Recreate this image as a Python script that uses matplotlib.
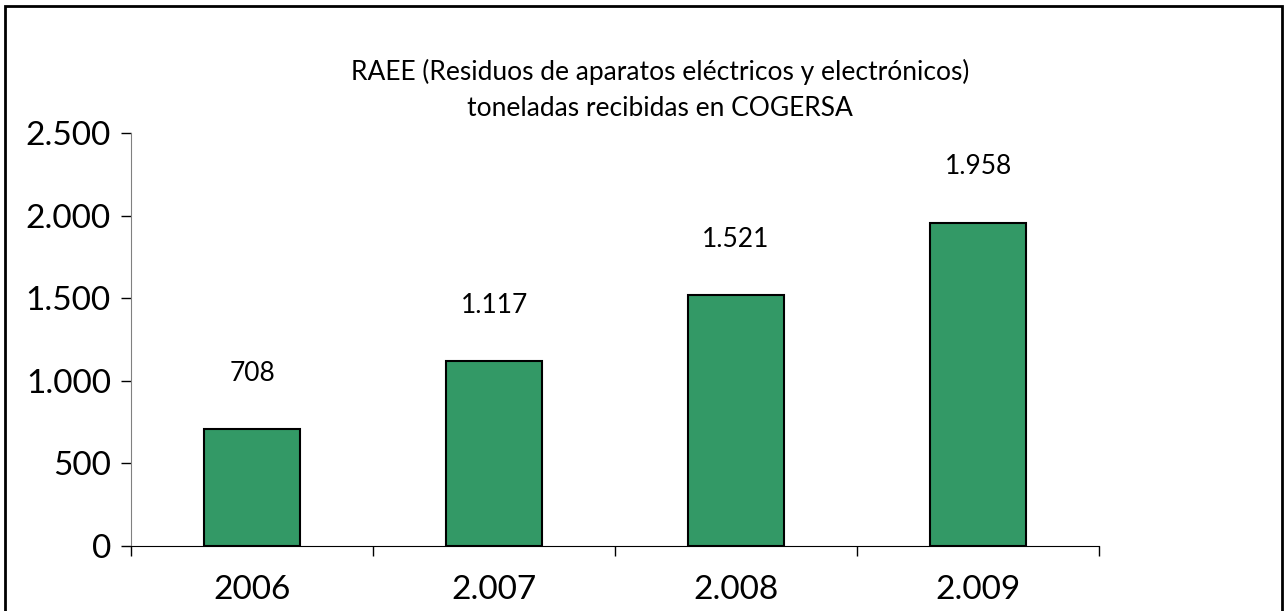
import numpy as np
import matplotlib
matplotlib.use('Agg')
from matplotlib import pyplot as plt
from matplotlib.patches import Rectangle

years = ['2006', '2.007', '2.008', '2.009']
tonnes = [708, 1117, 1521, 1958]
value_labels = ['708', '1.117', '1.521', '1.958']
y_ticks = [0, 500, 1000, 1500, 2000, 2500]
y_tick_labels = ['0', '500', '1.000', '1.500', '2.000', '2.500']

plt.rcParams['font.family'] = ['Lato', 'DejaVu Sans']

fig = plt.figure(figsize=(12.86, 6.11), dpi=100)
fig.patch.set_facecolor('white')

# outer chart frame
fig.patches.append(Rectangle((0.004, -0.02), 0.993, 1.01, transform=fig.transFigure,
                             fill=False, edgecolor='black', linewidth=2))

ax = fig.add_axes([0.1019, 0.1064, 0.7527, 0.6759])
x = np.arange(len(years))
bars = ax.bar(x, tonnes, width=0.4, color='#339966', edgecolor='black', linewidth=1.5)

for xi, v, lab in zip(x, tonnes, value_labels):
    ax.annotate(lab, (xi, v), xytext=(0, 40), textcoords='offset points',
                ha='center', va='center', fontsize=19)

ax.set_xlim(-0.5, 3.5)
ax.set_ylim(0, 2500)
ax.set_yticks(y_ticks)
ax.set_yticklabels(y_tick_labels, fontsize=24)
ax.set_xticks(x)
ax.set_xticklabels(years, fontsize=24)
ax.set_xticks(np.arange(-0.5, 4, 1), minor=True)
ax.tick_params(axis='x', which='major', length=0, pad=21)
ax.tick_params(axis='x', which='minor', length=7.5, width=1, color='black', direction='out')
ax.tick_params(axis='y', length=7.5, width=1, color='black', direction='out', pad=7)

ax.spines['top'].set_visible(False)
ax.spines['right'].set_visible(False)
ax.spines['left'].set_color('#808080')
ax.spines['bottom'].set_color('black')

fig.text(0.513, 1 - 72 / 611, 'RAEE (Residuos de aparatos eléctricos y electrónicos)',
         ha='center', va='center', fontsize=19)
fig.text(0.513, 1 - 108 / 611, 'toneladas recibidas en COGERSA',
         ha='center', va='center', fontsize=19)

fig.savefig('out.png', dpi=100, facecolor='white')
